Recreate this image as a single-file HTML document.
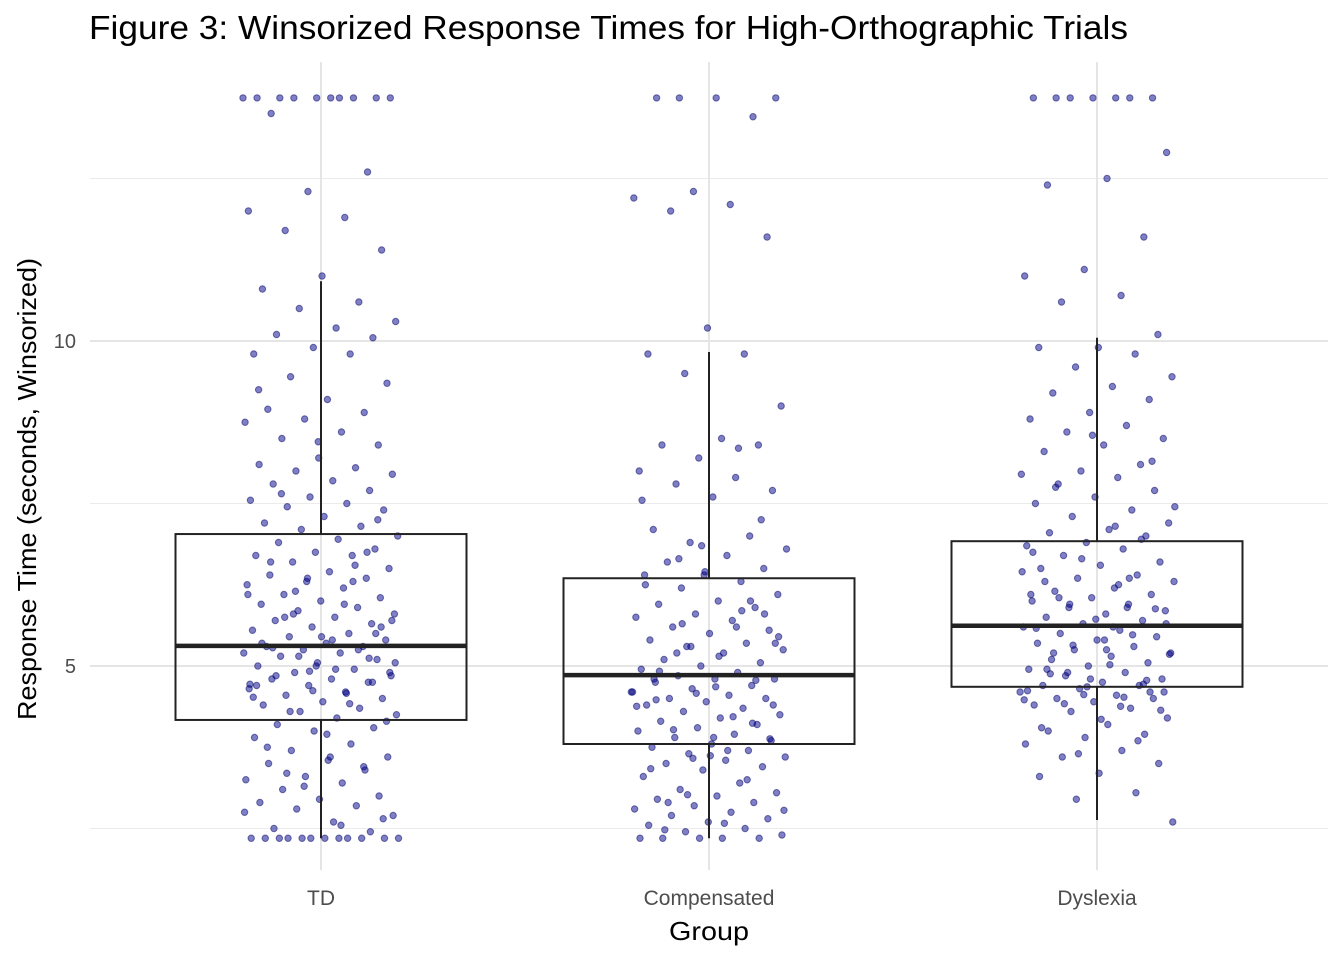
<!DOCTYPE html>
<html><head><meta charset="utf-8"><style>
body{margin:0;background:#fff;font-family:"Liberation Sans",sans-serif}
svg{display:block}
</style></head><body>
<svg id="chart" width="1344" height="960" xmlns="http://www.w3.org/2000/svg">
<text x="89" y="39" font-size="33" textLength="1039" lengthAdjust="spacingAndGlyphs" fill="#000">Figure 3: Winsorized Response Times for High-Orthographic Trials</text>
<g id="grid"></g><g id="pts"></g><g id="boxes"></g><g id="axes"></g>
<text x="709" y="940" text-anchor="middle" font-size="26" textLength="80" lengthAdjust="spacingAndGlyphs">Group</text>
<text transform="translate(36,489) rotate(-90)" text-anchor="middle" font-size="26" textLength="462" lengthAdjust="spacingAndGlyphs">Response Time (seconds, Winsorized)</text>
</svg>
<script>
const categories=["TD","Compensated","Dyslexia"];
const yTicks=[5,10];
const yMinor=[2.5,7.5,12.5];
const q1=[4.17,3.8,4.68];
const medians=[5.31,4.86,5.62];
const q3=[7.03,6.35,6.92];
const whiskLo=[2.35,2.35,2.63];
const whiskHi=[10.92,9.83,10.05];
const tdVals=[13.74,13.74,13.74,13.74,13.74,13.74,13.74,13.74,13.74,13.74,13.5,12.6,12.3,12.0,11.9,11.7,11.4,11.0,10.8,10.6,10.5,10.3,10.2,10.1,10.05,9.9,9.8,9.8,9.45,9.35,9.1,8.95,8.9,8.8,8.75,8.6,8.5,8.4,8.2,8.1,8.05,8.0,7.95,7.85,7.8,7.7,7.6,7.55,7.5,7.45,7.4,7.3,7.2,7.15,7.1,7.0,6.95,6.9,6.8,6.75,6.7,6.7,6.6,6.5,6.45,6.4,6.35,6.3,6.25,6.2,6.1,6.05,6.0,5.95,5.9,5.85,5.8,5.75,5.7,5.65,5.6,5.55,5.5,5.45,5.4,5.35,5.3,5.3,5.25,5.2,5.2,5.15,5.1,5.05,5.0,4.95,4.9,4.85,4.8,4.8,4.75,4.7,4.65,4.6,4.55,4.5,4.45,4.4,4.35,4.3,4.25,4.2,4.1,4.05,4.0,3.9,3.8,3.7,3.6,3.55,3.5,3.4,3.3,3.25,3.2,3.1,3.0,2.95,2.9,2.85,2.8,2.7,2.6,2.5,2.45,2.35,2.35,2.35,2.35,2.35,2.35,2.35,2.35,2.35,2.35,2.35,2.35,5.5,5.0,4.7,6.3,5.8,4.9,3.6,6.6,
6.75,6.35,6.1,5.95,5.75,5.6,5.45,5.35,5.25,5.15,5.05,4.95,4.85,4.75,4.62,4.52,4.42,4.3,4.15,3.95,3.75,3.45,3.15,2.75,2.55,7.65,7.25,8.45,9.25,6.55,6.15,5.7,5.4,5.28,5.12,4.92,4.72,4.58,3.35,2.65];
const compVals=[13.74,13.74,13.74,13.74,13.45,12.3,12.2,12.1,12.0,11.6,10.2,9.8,9.8,9.5,9.0,8.5,8.4,8.4,8.2,8.0,7.9,7.8,7.7,7.6,7.1,7.0,6.9,6.8,6.7,6.6,6.5,6.4,6.4,6.3,6.2,6.1,6.0,5.95,5.9,5.8,5.75,5.7,5.6,5.55,5.5,5.4,5.35,5.3,5.25,5.2,5.1,5.05,5.0,4.95,4.9,4.85,4.8,4.8,4.75,4.7,4.65,4.6,4.55,4.5,4.5,4.45,4.4,4.35,4.3,4.25,4.2,4.15,4.1,4.05,4.0,3.95,3.9,3.85,3.8,3.75,3.7,3.65,3.6,3.55,3.5,3.45,3.4,3.3,3.2,3.1,3.05,3.0,2.95,2.9,2.85,2.8,2.75,2.7,2.65,2.6,2.55,2.5,2.45,2.4,2.35,2.35,2.35,2.35,2.35,5.6,5.2,4.4,3.9,4.8,6.0,5.3,4.6,3.7,2.9,5.8,
6.45,6.25,5.85,5.65,5.45,5.15,4.92,4.78,4.58,4.38,4.22,4.02,3.88,3.62,3.42,3.25,3.02,2.78,2.58,2.48,7.25,6.85,7.55,8.35,6.65,5.35,4.68,4.48,4.12,3.58];
const dysVals=[13.74,13.74,13.74,13.74,13.74,13.74,13.74,12.9,12.5,12.4,11.6,11.1,11.0,10.7,10.6,10.1,9.9,9.9,9.8,9.6,9.45,9.3,9.2,9.1,8.9,8.8,8.7,8.6,8.5,8.4,8.3,8.1,8.0,7.95,7.9,7.8,7.7,7.6,7.5,7.4,7.3,7.2,7.1,7.05,7.0,6.9,6.85,6.8,6.7,6.6,6.55,6.5,6.4,6.35,6.3,6.2,6.15,6.1,6.05,6.0,5.95,5.9,5.85,5.8,5.75,5.7,5.65,5.6,5.55,5.5,5.45,5.4,5.35,5.3,5.25,5.2,5.15,5.1,5.05,5.0,4.95,4.9,4.85,4.8,4.75,4.7,4.7,4.65,4.6,4.55,4.5,4.5,4.45,4.4,4.35,4.3,4.2,4.1,4.0,3.95,3.9,3.8,3.7,3.6,3.5,3.35,3.3,3.05,2.95,2.6,5.6,5.2,4.6,4.8,6.1,5.9,4.9,4.6,5.4,6.3,
6.95,6.65,6.45,6.25,6.05,5.88,5.72,5.58,5.48,5.32,5.18,5.02,4.88,4.78,4.68,4.62,4.52,4.42,4.32,4.18,4.05,3.85,3.65,7.45,7.15,7.75,8.15,8.55,6.75,6.35,5.95,5.65,5.25,4.95,4.72,4.56,4.48,4.38];
const seriesVals=[tdVals,compVals,dysVals];
const NS="http://www.w3.org/2000/svg";
const X0=90,X1=1328,Y0=62,Y1=870;
const xScale=i=>321+i*388;
const yScale=v=>666-(v-5)*65;
function mk(tag,attrs,parent){const e=document.createElementNS(NS,tag);for(const k in attrs)e.setAttribute(k,attrs[k]);parent.appendChild(e);return e;}
const grid=document.getElementById('grid'),pts=document.getElementById('pts'),boxes=document.getElementById('boxes'),axes=document.getElementById('axes');
yMinor.forEach(v=>{const l=mk('line',{x1:X0,x2:X1,y1:yScale(v),y2:yScale(v),stroke:'#ebebeb','stroke-width':1},grid);

});
yTicks.forEach(v=>{const l=mk('line',{x1:X0,x2:X1,y1:yScale(v),y2:yScale(v),stroke:'#e5e5e5','stroke-width':2},grid);


const t=mk('text',{x:76,y:yScale(v)+7,'text-anchor':'end','font-size':20,fill:'#4d4d4d'},axes);t.textContent=v;

});
categories.forEach((c,i)=>{const l=mk('line',{x1:xScale(i),x2:xScale(i),y1:Y0,y2:Y1,stroke:'#e5e5e5','stroke-width':2},grid);


const t=mk('text',{x:xScale(i),y:905,'text-anchor':'middle','font-size':21,fill:'#4d4d4d'},axes);t.textContent=c;


seriesVals[i].forEach((v,j)=>{const jit=(((j*0.6180339+i*0.31)%1)-0.5)*156;
const p=mk('circle',{cx:xScale(i)+jit,cy:yScale(v),r:3.2,fill:'rgba(0,0,139,0.5)',stroke:'rgba(0,0,100,0.5)','stroke-width':1},pts);

});
const g=mk('g',{},boxes);


const cx=xScale(i),hw=145.5;
mk('line',{x1:cx,x2:cx,y1:yScale(q3[i]),y2:yScale(whiskHi[i]),stroke:'#222','stroke-width':2},g);
mk('line',{x1:cx,x2:cx,y1:yScale(q1[i]),y2:yScale(whiskLo[i]),stroke:'#222','stroke-width':2},g);
mk('rect',{x:cx-hw,y:yScale(q3[i]),width:2*hw,height:yScale(q1[i])-yScale(q3[i]),fill:'none',stroke:'#222','stroke-width':2},g);
mk('line',{x1:cx-hw,x2:cx+hw,y1:yScale(medians[i]),y2:yScale(medians[i]),stroke:'#222','stroke-width':4.5},g);
});
</script>
</body></html>
